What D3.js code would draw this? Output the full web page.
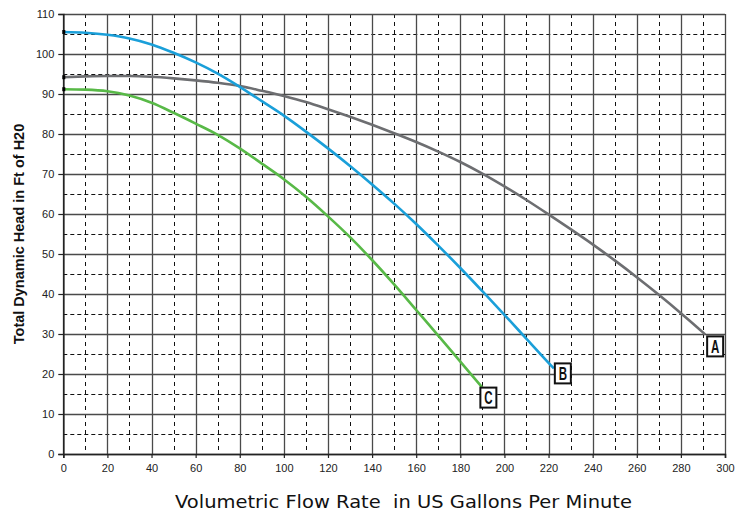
<!DOCTYPE html>
<html><head><meta charset="utf-8">
<script src="https://cdn.jsdelivr.net/npm/d3@7"></script>
<style>
html,body{margin:0;padding:0;background:#fff;}
svg{display:block;}
</style></head>
<body>
<svg id="chart" width="747" height="515"></svg>
<script>
// ---- data ----
const flowA = [0,10,20,30,40,50,60,70,80,90,100,110,120,130,140,150,160,170,180,190,200,210,220,230,240,250,260,270,280,290,291];
const headA = [94.2,94.4,94.5,94.5,94.3,93.9,93.4,92.8,92.0,90.8,89.5,88.0,86.2,84.3,82.3,80.2,78.0,75.6,73.0,70.1,66.9,63.5,59.9,56.2,52.4,48.4,44.2,39.8,35.2,30.4,29.9];
const flowB = [0,10,20,30,40,50,60,70,80,90,100,110,120,130,140,150,160,170,180,190,200,210,220,222.4];
const headB = [105.5,105.3,104.8,103.9,102.4,100.3,97.9,95.1,91.8,88.2,84.6,80.6,76.4,72.0,67.4,62.6,57.5,52.1,46.5,40.7,34.8,28.8,22.8,21.4];
const flowC = [0,10,20,30,40,50,60,70,80,90,100,110,120,130,140,150,160,170,180,190];
const headC = [91.2,91.1,90.7,89.6,87.8,85.3,82.6,79.8,76.4,72.6,68.7,64.3,59.4,54.2,48.5,42.4,36.0,29.6,23.1,16.6];
const curveNames = ["A","B","C"];
const xTicks = d3.range(0, 301, 20);
const yTicks = d3.range(0, 111, 10);
const xMinor = d3.range(10, 300, 20);
const yMinor = d3.range(5, 110, 10);
const xTitle = "Volumetric Flow Rate  in US Gallons Per Minute";
const yTitle = "Total Dynamic Head in Ft of H20";

// ---- layout ----
const svg = d3.select("#chart");
const x = d3.scaleLinear().domain([0, 300]).range([63.3, 725]);
const y = d3.scaleLinear().domain([0, 110]).range([454, 14]);

const series = [
  {name: curveNames[0], fx: flowA, hy: headA, color: "#6d6e71", dx: 2, dy: 2},
  {name: curveNames[1], fx: flowB, hy: headB, color: "#1a9fd9", dx: 1, dy: -5},
  {name: curveNames[2], fx: flowC, hy: headC, color: "#58b947", dx: -2, dy: 0}
];

const g = svg.append("g");

// minor dashed grid
g.selectAll("line.vminor").data(xMinor).join("line")
  .attr("x1", d => Math.round(x(d)) + 0.5).attr("x2", d => Math.round(x(d)) + 0.5)
  .attr("y1", y(110)).attr("y2", y(0))
  .attr("stroke", "#111").attr("stroke-width", 1).attr("stroke-dasharray", "4,4");
g.selectAll("line.hminor").data(yMinor).join("line")
  .attr("y1", d => Math.round(y(d)) + 0.5).attr("y2", d => Math.round(y(d)) + 0.5)
  .attr("x1", x(0)).attr("x2", x(300))
  .attr("stroke", "#111").attr("stroke-width", 1).attr("stroke-dasharray", "4,3");

// major solid grid
g.selectAll("line.vmajor").data(xTicks).join("line")
  .attr("x1", d => Math.round(x(d)) + 0.5).attr("x2", d => Math.round(x(d)) + 0.5)
  .attr("y1", y(110)).attr("y2", y(0))
  .attr("stroke", "#4a4a4a").attr("stroke-width", 1.3);
g.selectAll("line.hmajor").data(yTicks).join("line")
  .attr("y1", d => Math.round(y(d)) + 0.5).attr("y2", d => Math.round(y(d)) + 0.5)
  .attr("x1", x(0)).attr("x2", x(300))
  .attr("stroke", "#4a4a4a").attr("stroke-width", 1.3);

// axes
const xAxis = d3.axisBottom(x).tickValues(xTicks).tickSize(4).tickPadding(6).tickFormat(d3.format("d"));
const yAxis = d3.axisLeft(y).tickValues(yTicks).tickSize(5).tickPadding(4).tickFormat(d3.format("d"));
const gx = svg.append("g").attr("transform", `translate(0,${y(0)})`).call(xAxis);
const gy = svg.append("g").attr("transform", `translate(${x(0)},0)`).call(yAxis);
[gx, gy].forEach(a => {
  a.select(".domain").attr("stroke", "#222").attr("stroke-width", 1.6);
  a.selectAll(".tick line").attr("stroke", "#222").attr("stroke-width", 1.2);
  a.selectAll(".tick text").attr("fill", "#222")
    .style("font-family", "'Liberation Sans', Arial, sans-serif").style("font-size", "11px");
});

// curves
const line = d3.line().x(d => x(d[0])).y(d => y(d[1])).curve(d3.curveMonotoneX);
series.forEach(s => {
  const pts = s.fx.map((v, i) => [v, s.hy[i]]);
  svg.append("path").datum(pts).attr("d", line)
    .attr("fill", "none").attr("stroke", s.color).attr("stroke-width", 2.6)
    .attr("stroke-linecap", "butt");
  // start marker
  svg.append("rect").attr("x", x(0) - 1).attr("y", y(pts[0][1]) - 2)
    .attr("width", 3).attr("height", 4).attr("fill", "#000");
  // end label
  const end = pts[pts.length - 1];
  const bx = x(end[0]) + s.dx, by = y(end[1]) + s.dy;
  svg.append("rect").attr("x", bx).attr("y", by).attr("width", 16).attr("height", 20)
    .attr("fill", "#fff").attr("stroke", "#111").attr("stroke-width", 2);
  svg.append("text")
    .attr("transform", `translate(${bx + 8},${by + 16.3}) scale(0.66,1)`)
    .attr("text-anchor", "middle")
    .style("font-family", "'Liberation Sans', Arial, sans-serif")
    .style("font-weight", "bold").style("font-size", "17.5px").attr("fill", "#111")
    .text(s.name);
});

// titles
svg.append("text").attr("x", 403.5).attr("y", 508)
  .attr("text-anchor", "middle")
  .style("white-space", "pre")
  .attr("textLength", 457).attr("lengthAdjust", "spacingAndGlyphs")
  .style("font-family", "'DejaVu Sans', sans-serif").style("font-size", "18px")
  .attr("fill", "#111").text(xTitle);
svg.append("text")
  .attr("transform", `translate(24,${(y(0) + y(110)) / 2}) rotate(-90)`)
  .attr("text-anchor", "middle")
  .style("font-family", "'Liberation Sans', Arial, sans-serif").style("font-size", "14.5px")
  .style("font-weight", "bold").attr("fill", "#111").text(yTitle);
</script>
</body></html>
